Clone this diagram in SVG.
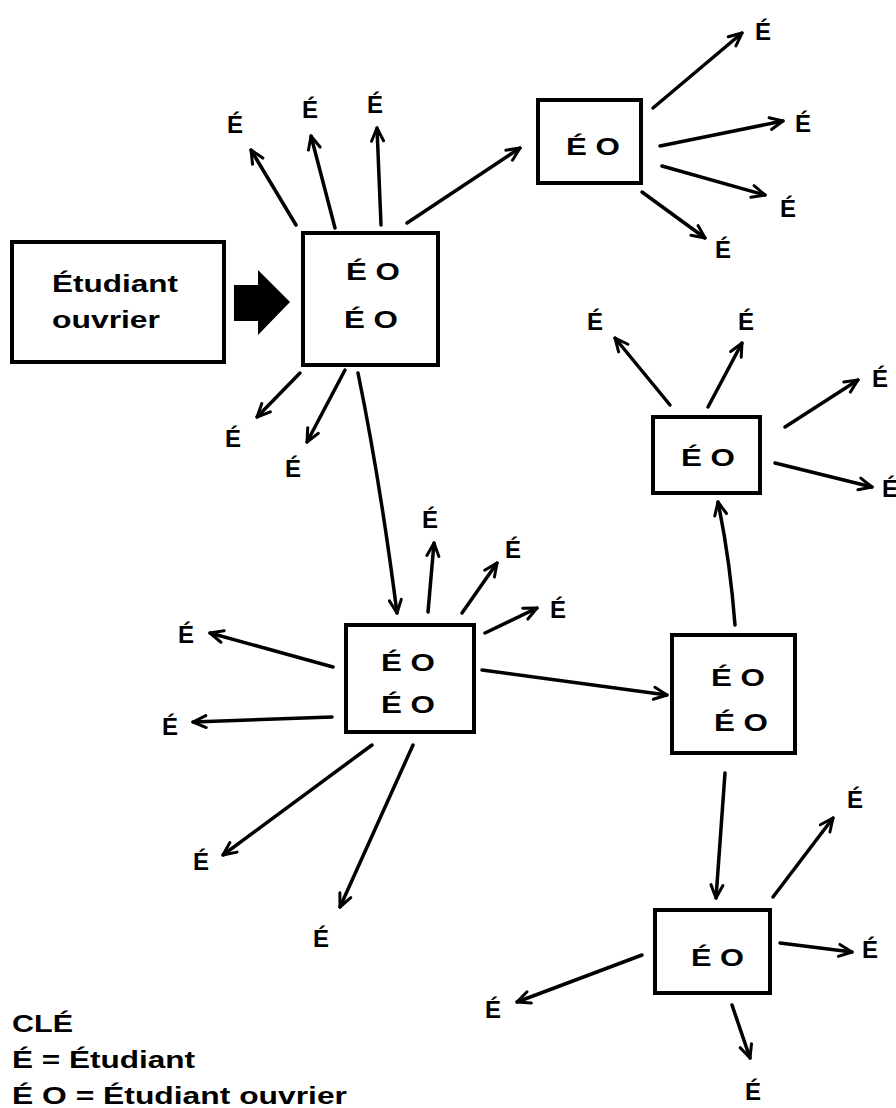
<svg xmlns="http://www.w3.org/2000/svg" width="896" height="1108" viewBox="0 0 896 1108">
<style>
.box{fill:#fff;stroke:#000;stroke-width:4}
.t{font-family:"Liberation Sans",Arial,sans-serif;font-weight:bold;fill:#000}
.bt{font-size:24px}
.lt{font-size:24px}
.e{font-size:24px}
.c{fill:none;stroke:#000;stroke-width:3.5;stroke-linecap:round;marker-end:url(#ah)}
</style>
<defs>
<marker id="ah" markerWidth="18" markerHeight="16" refX="15" refY="8" orient="auto" markerUnits="userSpaceOnUse">
<path d="M2,2 L15,8 L2,14" fill="none" stroke="#000" stroke-width="3" stroke-linecap="round" stroke-linejoin="round"/>
</marker>
</defs>
<rect width="896" height="1108" fill="#fff"/>

<g id="connectors">
<line class="c" x1="296" y1="225" x2="251" y2="150"/>
<line class="c" x1="335" y1="228" x2="311" y2="136"/>
<line class="c" x1="381" y1="225" x2="377" y2="128"/>
<line class="c" x1="407" y1="223" x2="520" y2="148"/>
<line class="c" x1="300" y1="373" x2="257" y2="417"/>
<line class="c" x1="345" y1="370" x2="307" y2="442"/>
<path class="c" d="M358,373 Q380,480 397,613"/>
<line class="c" x1="653" y1="108" x2="742" y2="33"/>
<line class="c" x1="660" y1="146" x2="783" y2="121"/>
<line class="c" x1="662" y1="166" x2="765" y2="195"/>
<line class="c" x1="642" y1="192" x2="705" y2="238"/>
<line class="c" x1="428" y1="612" x2="434" y2="543"/>
<line class="c" x1="462" y1="613" x2="497" y2="563"/>
<line class="c" x1="485" y1="633" x2="537" y2="608"/>
<line class="c" x1="333" y1="667" x2="210" y2="633"/>
<line class="c" x1="332" y1="717" x2="193" y2="722"/>
<line class="c" x1="372" y1="745" x2="223" y2="855"/>
<line class="c" x1="413" y1="745" x2="340" y2="907"/>
<line class="c" x1="482" y1="670" x2="667" y2="695"/>
<path class="c" d="M735,625 Q730,560 718,502"/>
<line class="c" x1="725" y1="773" x2="716" y2="898"/>
<line class="c" x1="670" y1="405" x2="615" y2="338"/>
<line class="c" x1="708" y1="407" x2="742" y2="343"/>
<line class="c" x1="785" y1="427" x2="858" y2="380"/>
<line class="c" x1="775" y1="463" x2="872" y2="487"/>
<line class="c" x1="773" y1="897" x2="833" y2="818"/>
<line class="c" x1="780" y1="943" x2="852" y2="952"/>
<line class="c" x1="732" y1="1005" x2="750" y2="1058"/>
<line class="c" x1="642" y1="955" x2="517" y2="1002"/>
<polygon points="234,285 258,285 258,270 290,302 258,335 258,321 234,321" fill="#000"/>
</g>

<g id="node-a">
<rect class="box" x="12" y="242" width="212" height="120"/>
<text class="t lt" x="52" y="292" textLength="126" lengthAdjust="spacingAndGlyphs">Étudiant</text>
<text class="t lt" x="52" y="328" textLength="108" lengthAdjust="spacingAndGlyphs">ouvrier</text>
</g>

<g id="node-b">
<rect class="box" x="303" y="233" width="135" height="132"/>
<text class="t bt" x="346" y="280" textLength="54" lengthAdjust="spacingAndGlyphs">É O</text>
<text class="t bt" x="344" y="328" textLength="54" lengthAdjust="spacingAndGlyphs">É O</text>
</g>

<g id="node-c">
<rect class="box" x="538" y="100" width="103" height="83"/>
<text class="t bt" x="566" y="155" textLength="54" lengthAdjust="spacingAndGlyphs">É O</text>
</g>

<g id="node-d">
<rect class="box" x="346" y="625" width="128" height="107"/>
<text class="t bt" x="381" y="671" textLength="54" lengthAdjust="spacingAndGlyphs">É O</text>
<text class="t bt" x="381" y="713" textLength="54" lengthAdjust="spacingAndGlyphs">É O</text>
</g>

<g id="node-e">
<rect class="box" x="672" y="635" width="123" height="118"/>
<text class="t bt" x="711" y="686" textLength="54" lengthAdjust="spacingAndGlyphs">É O</text>
<text class="t bt" x="714" y="731" textLength="54" lengthAdjust="spacingAndGlyphs">É O</text>
</g>

<g id="node-f">
<rect class="box" x="653" y="417" width="107" height="76"/>
<text class="t bt" x="681" y="466" textLength="54" lengthAdjust="spacingAndGlyphs">É O</text>
</g>

<g id="node-g">
<rect class="box" x="655" y="910" width="115" height="83"/>
<text class="t bt" x="691" y="966" textLength="53" lengthAdjust="spacingAndGlyphs">É O</text>
</g>

<g id="labels" class="t e">
<text x="227" y="133">É</text>
<text x="302" y="118">É</text>
<text x="367" y="113">É</text>
<text x="225" y="447">É</text>
<text x="285" y="477">É</text>
<text x="755" y="40">É</text>
<text x="795" y="132">É</text>
<text x="780" y="217">É</text>
<text x="715" y="258">É</text>
<text x="587" y="330">É</text>
<text x="738" y="330">É</text>
<text x="872" y="387">É</text>
<text x="882" y="497">É</text>
<text x="422" y="528">É</text>
<text x="505" y="558">É</text>
<text x="550" y="618">É</text>
<text x="178" y="643">É</text>
<text x="162" y="735">É</text>
<text x="193" y="870">É</text>
<text x="313" y="947">É</text>
<text x="847" y="808">É</text>
<text x="862" y="958">É</text>
<text x="745" y="1100">É</text>
<text x="485" y="1018">É</text>
</g>

<g id="legend">
<text class="t lt" x="12" y="1032" textLength="61" lengthAdjust="spacingAndGlyphs">CLÉ</text>
<text class="t lt" x="12" y="1068" textLength="183" lengthAdjust="spacingAndGlyphs">É = Étudiant</text>
<text class="t lt" x="12" y="1104" textLength="335" lengthAdjust="spacingAndGlyphs">É O = Étudiant ouvrier</text>
</g>
</svg>
